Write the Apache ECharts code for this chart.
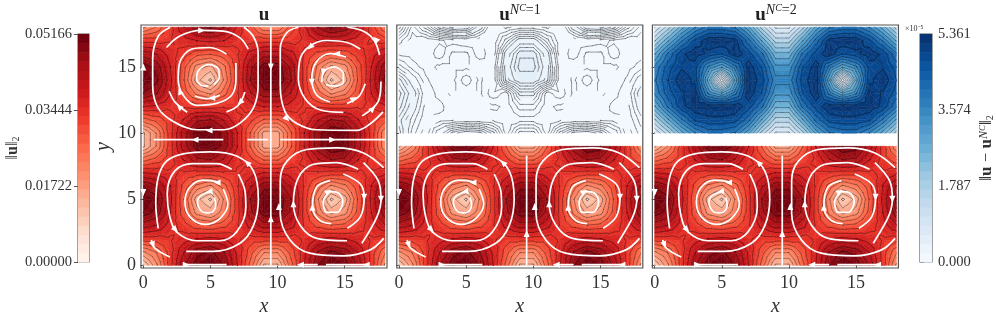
<!DOCTYPE html>
<html>
<head>
<meta charset="utf-8">
<style>html,body{margin:0;padding:0;background:#fff}#chart{width:996px;height:322px}</style>
<script src="https://cdn.jsdelivr.net/npm/echarts@6/dist/echarts.min.js"></script>
</head>
<body>
<div id="chart"></div>
<script>
// ||u||_2 in units of 1e-3, rows y=0..18, columns x=0..18
const uNorm = [
  [10,20,33,44,50,51.6,48,38,26,13,13,26,38,48,51.6,50,44,33,20],
  [20,24.5,33,41,47,49,45,37,29,21,21,29,37,45,49,47,41,33,24.5],
  [33,33,34,36,38,39,38,35,33,33,33,33,35,38,39,38,36,34,33],
  [43,41,36,33,29,28,30,34,39,43,43,39,34,30,28,29,33,36,41],
  [50,47,38,29,19,16,23,33,44,50,50,44,33,23,16,19,29,38,47],
  [51.6,49,39,28,15,9.5,21,33,45,51,51,45,33,21,9.5,15,28,39,49],
  [48,45,38,30,23,20,26,34,41,47,47,41,34,26,20,23,30,38,45],
  [38,37,35,34,33,33,34,34,36,38,38,36,34,34,33,33,34,35,37],
  [26,29,33,38,44,45,41,35,32,27,27,32,35,41,45,44,38,33,29],
  [13,21,33,43,50,51,47,38,27,15.6,15.6,27,38,47,51,50,43,33,21],
  [13,21,33,43,50,51,47,38,27,15.6,15.6,27,38,47,51,50,43,33,21],
  [26,29,33,38,44,45,41,35,32,27,27,32,35,41,45,44,38,33,29],
  [38,37,35,34,33,33,34,34,36,38,38,36,34,34,33,33,34,35,37],
  [48,45,38,30,23,20,26,34,41,47,47,41,34,26,20,23,30,38,45],
  [51.6,49,39,28,15,9.5,21,33,45,51,51,45,33,21,9.5,15,28,39,49],
  [50,47,38,29,19,16,23,33,44,50,50,44,33,23,16,19,29,38,47],
  [43,41,36,33,29,28,30,34,39,43,43,39,34,30,28,29,33,36,41],
  [33,33,34,36,38,39,38,35,33,33,33,33,35,38,39,38,36,34,33],
  [20,24.5,33,41,47,49,45,37,29,21,21,29,37,45,49,47,41,33,24.5],
];
// error fields in units of 1e-7, rows y=10..18
const errNc1 = [
  [34,14,5,20,34,40,38,26,6,22,22,6,26,38,40,34,20,5,14],
  [30,18,8,6,7,8,8,7,4,6,6,4,7,8,8,7,6,8,18],
  [38,24,10,10,4,4,4,3,5,14,14,5,3,4,4,4,10,10,24],
  [42,28,12,6,3,4,3,11,6,26,26,6,11,3,4,3,6,12,28],
  [34,20,9,4,3,11,3,8,34,44,44,34,8,3,11,3,4,9,20],
  [18,10,6,3,3,3,4,8,36,50,50,36,8,4,3,3,3,6,10],
  [7,6,4,11,3,3,11,4,32,47,47,32,4,11,3,3,11,4,6],
  [14,5,4,7,10,12,8,4,18,32,32,18,4,8,12,10,7,4,5],
  [30,10,22,38,46,44,28,8,3,6,6,3,8,28,44,46,38,22,10],
];
const errNc2 = [
  [70,161,268,354,407,407,386,295,161,64,64,161,295,386,407,407,354,268,161],
  [172,279,386,472,490,490,480,407,279,161,161,279,407,480,490,490,472,386,279],
  [279,400,490,525,525,530,525,480,400,257,257,400,480,525,530,525,525,490,400],
  [364,450,495,525,350,290,380,525,460,332,332,460,525,380,290,350,525,495,450],
  [386,465,525,490,268,5,295,530,480,370,370,480,530,295,5,268,490,525,465],
  [364,450,495,480,350,290,380,520,460,332,332,460,520,380,290,350,480,495,450],
  [279,400,490,525,490,465,525,480,400,257,257,400,480,525,465,490,525,490,400],
  [172,279,386,472,525,530,515,407,279,161,161,279,407,515,530,525,472,386,279],
  [70,161,268,354,407,407,386,295,161,64,64,161,295,386,407,407,354,268,161],
];

const xTicks = [0, 5, 10, 15];
const yTicks = [0, 5, 10, 15];
const uBarTicks = [0, 17.22, 34.44, 51.66];
const errBarTicks = [0, 178.7, 357.4, 536.1];

// streamlines in data coordinates
const streamsUpper = [
  [[2,18],[1.1,17.3],[0.7,15.6],[0.7,13.6],[1.1,11.9],[2.2,10.9],[4,10.25],[6,10.25],[7.2,10.75],[8.2,11.9],[8.55,13.6],[8.55,16.1],[8.2,17.3],[7.5,18]],
  [[1.73,16.47],[2.72,17.34],[4.34,17.76],[5.96,17.7],[7.2,17.2],[7.82,16.35]],
  [[1.93,13.16],[2.35,12.36],[3.27,11.57]],
  [[6.2,11.6],[7.08,12.1],[7.57,13.1]],
  [[6.9,15.3],[6.9,14.1],[6.58,12.86],[5.46,12.24],[3.97,12.1],[2.97,12.86],[2.6,14.1],[2.72,15.35],[3.6,16.35],[4.96,16.47],[6.2,15.97]],
  [[3.85,12.8],[4.72,12.6],[5.7,12.86]],
  [[4.84,13.55],[4.34,13.6],[3.97,14.1],[4.1,14.7],[4.84,15.17],[5.59,14.85],[5.66,14.2],[5.25,13.66]],
  [[11.55,18],[10.7,17.6],[10.2,16.35],[10.2,13.6],[10.56,11.6],[11.4,10.75],[12.9,10.25],[15.9,10.2],[16.9,10.7],[17.85,11.6]],
  [[15.2,18],[16.4,17.7],[17.2,17],[17.6,15.9]],
  [[17.7,13.9],[17.5,12.4],[16.3,11.3]],
  [[14.9,11.57],[13.2,11.74],[12.05,12.6],[11.55,14.1],[11.68,15.6],[12.43,16.6],[13.67,17],[15.17,16.85],[16.16,16.35]],
  [[15.17,12.24],[16.04,12.75],[16.53,13.73]],
  [[15.1,15.75],[13.9,16],[12.9,15.4],[12.55,14.1],[12.9,12.9],[13.9,12.35]],
  [[13.3,13.85],[13.4,14.6],[14.2,15],[14.9,14.5],[14.9,13.85],[14.25,13.55],[13.6,13.65]],
  [[0.78,9.5],[5.96,9.5]],
  [[7.75,9.5],[9.3,9.5]],
  [[10.2,9.5],[18,9.5]],
];
const streamsLower = [
  [[1.11,2.79],[0.93,4.65],[1.11,6.64],[1.73,7.88],[2.97,8.43],[4.96,8.58],[6.95,8.26],[8.2,7.14],[8.57,5],[8.2,3],[7.2,1.67],[5.2,1.05],[3.2,1.05]],
  [[6.58,7.26],[5.46,7.69],[3.7,7.69],[2.35,7.14],[1.78,5.4],[1.98,3.66],[2.47,2.53],[3.97,1.86],[5.7,1.86],[6.95,2.53],[7.64,4.4],[7.57,5.65],[7.08,6.9]],
  [[5.7,6.27],[4.46,6.44],[3.47,5.9],[3.1,4.8],[3.47,3.66],[4.6,3.1],[5.7,3.54],[6.3,4.65],[5.96,5.77]],
  [[4.9,5.57],[4.2,5.2],[4.04,4.8],[4.34,4.1],[4.96,3.96],[5.4,4.5],[5.3,5.13]],
  [[0.6,1.92],[0.86,1.3],[1.98,0.63]],
  [[3.2,0.05],[6.2,0.05]],
  [[11.7,0.05],[13,0.05]],
  [[13.6,0.05],[16.6,0.05]],
  [[17.9,2.04],[16.9,1.17],[14.9,0.72],[12.4,0.92],[10.93,1.92],[10.2,3.91],[10.2,6.39],[10.7,7.88],[12.17,8.76],[14.4,8.88],[16.4,8.5],[17.9,7.39]],
  [[16,7.26],[14.4,7.76],[12.67,7.64],[11.55,6.64],[11.18,4.65],[11.68,3.03],[12.9,2.04],[15.17,1.86]],
  [[16.4,7.76],[17.5,6.39],[17.7,5],[17.4,3.66],[16.28,1.67]],
  [[14.9,6.9],[16.16,6.15],[16.45,5.15],[16.16,3.66],[15.2,2.8]],
  [[13.9,6.4],[12.9,5.9],[12.6,4.4],[13.15,3.4],[14,3.15]],
  [[13.8,5.57],[14.5,5.5],[14.86,4.8],[14.4,4],[13.67,4],[13.4,4.8],[13.7,5.4]],
];
const verticalFull = [[9.5,18],[9.5,0]];
const verticalLower = [[9.5,8.3],[9.5,0]];

// arrow heads: x, y, rotation in degrees (0 = up, counter-clockwise)
const arrowsUpper = [
  [4.9,10.2,90],[4.35,17.76,-90],[2.67,12,45],[7.2,12.3,135],[2.72,13.16,20],[5.1,12.65,90],
  [10.7,11.08,225],[17.3,17.1,45],[17.1,11.85,-45],[12.43,16.5,135],[15.7,12.6,-60],[14.4,16,90],
  [12.55,13.85,180],[13.4,14.6,170],[0,15,0],[9.5,15,180],[3.85,9.5,90],[14.1,9.5,-90],
];
const arrowsLower = [
  [7.74,7.76,45],[2.4,2.7,225],[5.5,6.27,90],[4.9,5.57,100],[0.73,1.55,200],
  [10.1,4.45,0],[11.18,4.65,0],[12.6,4.4,0],[17.7,5,180],[16.45,5.15,180],[13.8,5.57,-60],
  [0,5.5,180],[3.2,0.05,-90],[11.7,0.05,90],[16.6,0.05,90],
];
const arrowMidFull = [9.5,3.53,0];
const arrowMidLower = [9.5,2.41,0];

const redStops = ['#fff5f0','#fee0d2','#fcbba1','#fc9272','#fb6a4a','#ef3b2c','#cb181d','#a50f15','#67000d'];
const blueStops = ['#f7fbff','#deebf7','#c6dbef','#9ecae1','#6baed6','#4292c6','#2171b5','#08519c','#08306b'];
const bandCount = 25;
const lineCount = 15;

function hex(c) { return [1,3,5].map(k => parseInt(c.substr(k,2),16)); }
function cmap(stops, t) {
  const s = Math.min(Math.max(t,0),1) * (stops.length-1);
  const k = Math.min(Math.floor(s), stops.length-2);
  const a = hex(stops[k]), b = hex(stops[k+1]), f = s-k;
  return 'rgb(' + a.map((v,n) => Math.round(v+(b[n]-v)*f)).join(',') + ')';
}
function triangles(rows, y0) {
  const out = [];
  for (let j = 0; j < rows.length-1; j++) {
    for (let i = 0; i < rows[j].length-1; i++) {
      const a = [i,y0+j,rows[j][i]], b = [i+1,y0+j,rows[j][i+1]];
      const c = [i+1,y0+j+1,rows[j+1][i+1]], d = [i,y0+j+1,rows[j+1][i]];
      const m = [i+.5,y0+j+.5,(a[2]+b[2]+c[2]+d[2])/4];
      out.push([a,b,m],[b,c,m],[c,d,m],[d,a,m]);
    }
  }
  return out;
}
function clip(poly, lev, above) {
  const out = [];
  for (let k = 0; k < poly.length; k++) {
    const p = poly[k], q = poly[(k+1)%poly.length];
    const pin = above ? p[2] >= lev : p[2] <= lev;
    const qin = above ? q[2] >= lev : q[2] <= lev;
    if (pin) out.push(p);
    if (pin !== qin) {
      const t = (lev-p[2])/(q[2]-p[2]);
      out.push([p[0]+(q[0]-p[0])*t, p[1]+(q[1]-p[1])*t, lev]);
    }
  }
  return out;
}
function bands(rows, y0, stops, vmax) {
  const polys = [];
  triangles(rows, y0).forEach(tri => {
    for (let b = 0; b < bandCount; b++) {
      const lo = vmax*b/bandCount, hi = vmax*(b+1)/bandCount;
      let p = clip(tri, lo, true);
      if (p.length) p = clip(p, hi, false);
      if (p.length > 2) polys.push({pts: p.map(q => [q[0],q[1]]), color: cmap(stops,(b+.5)/bandCount)});
    }
  });
  return polys;
}
function contours(rows, y0, step) {
  const segs = [];
  triangles(rows, y0).forEach(tri => {
    for (let lev = step; lev < step*40; lev += step) {
      const cut = [];
      for (let k = 0; k < 3; k++) {
        const p = tri[k], q = tri[(k+1)%3];
        if ((p[2]-lev)*(q[2]-lev) < 0) {
          const t = (lev-p[2])/(q[2]-p[2]);
          cut.push([p[0]+(q[0]-p[0])*t, p[1]+(q[1]-p[1])*t]);
        }
      }
      if (cut.length === 2) segs.push(cut);
    }
  });
  return segs;
}

const series = [];
function fieldSeries(ax, polys, segs, lineColor) {
  series.push({
    type: 'custom', xAxisIndex: ax, yAxisIndex: ax, silent: true, animation: false, progressive: 0, z: 2,
    data: polys.map(p => p.pts[0]),
    renderItem: (params, api) => {
      const p = polys[params.dataIndex];
      return {type:'polygon', shape:{points:p.pts.map(q => api.coord(q))}, style:{fill:p.color, stroke:p.color, lineWidth:.5}};
    },
  });
  series.push({
    type: 'custom', xAxisIndex: ax, yAxisIndex: ax, silent: true, animation: false, progressive: 0, z: 3,
    data: segs.map(s => s[0]),
    renderItem: (params, api) => {
      const s = segs[params.dataIndex];
      const a = api.coord(s[0]), b = api.coord(s[1]);
      return {type:'line', shape:{x1:a[0],y1:a[1],x2:b[0],y2:b[1]}, style:{stroke:lineColor, lineWidth:.65, lineCap:'round'}};
    },
  });
}
function streamSeries(ax, lines, arrows) {
  lines.forEach(l => series.push({
    type:'line', xAxisIndex:ax, yAxisIndex:ax, data:l, smooth:.35, showSymbol:false, silent:true, animation:false, z:4,
    lineStyle:{color:'#fff', width:1.7},
  }));
  series.push({
    type:'scatter', xAxisIndex:ax, yAxisIndex:ax, silent:true, animation:false, z:5, symbol:'triangle', symbolSize:[6,7],
    itemStyle:{color:'#fff', opacity:1}, clip:false,
    data: arrows.map(a => ({value:[a[0],a[1]], symbolRotate:a[2]})),
  });
}
function colorbarSeries(ax, stops, vmax) {
  const rects = [];
  for (let b = 0; b < bandCount; b++) rects.push([0, vmax*b/bandCount, 1, vmax*(b+1)/bandCount]);
  series.push({
    type:'custom', xAxisIndex:ax, yAxisIndex:ax, silent:true, animation:false, z:2, data:rects,
    renderItem:(params, api) => {
      const r = rects[params.dataIndex];
      const a = api.coord([r[0],r[3]]), b = api.coord([r[2],r[1]]);
      return {type:'rect', shape:{x:a[0],y:a[1],width:b[0]-a[0],height:b[1]-a[1]+.5},
        style:{fill:cmap(stops,(params.dataIndex+.5)/bandCount)}};
    },
  });
}

const uMax = 51.66, errMax = 536.1;
const lowerRows = uNorm.slice(0,10);
const uLines = contours(uNorm, 0, uMax/lineCount);
const lowerLines = contours(lowerRows, 0, uMax/lineCount);
const redLine = 'rgba(0,0,0,.48)';
fieldSeries(0, bands(uNorm,0,redStops,uMax), uLines, redLine);
streamSeries(0, streamsUpper.concat(streamsLower,[verticalFull]), arrowsUpper.concat(arrowsLower,[arrowMidFull]));
fieldSeries(1, bands(lowerRows,0,redStops,uMax), lowerLines, redLine);
fieldSeries(1, bands(errNc1,10,blueStops,errMax), contours(errNc1,10,4), 'rgba(0,0,0,.6)');
streamSeries(1, streamsLower.concat([verticalLower]), arrowsLower.concat([arrowMidLower]));
fieldSeries(2, bands(lowerRows,0,redStops,uMax), lowerLines, redLine);
fieldSeries(2, bands(errNc2,10,blueStops,errMax), contours(errNc2,10,errMax/lineCount), 'rgba(0,0,0,.48)');
streamSeries(2, streamsLower.concat([verticalLower]), arrowsLower.concat([arrowMidLower]));
colorbarSeries(3, redStops, uMax);
colorbarSeries(4, blueStops, errMax);

const font = 'Liberation Serif';
const frame = '#555';
const panelLefts = [141, 396.8, 652.4];
const grids = panelLefts.map(l => ({left:l, top:25, width:246, height:246, show:true, borderColor:frame, borderWidth:1.2, backgroundColor:'#fff'}));
grids.push({left:78, top:34, width:11, height:228, show:true, borderColor:frame, borderWidth:1.1});
grids.push({left:920, top:34, width:12, height:228, show:true, borderColor:frame, borderWidth:1.1});

const xAxes = panelLefts.map(() => ({
  type:'value', min:-0.17, max:18.15, splitLine:{show:false}, axisLine:{show:false},
  axisTick:{length:3, lineStyle:{color:frame}, customValues:xTicks},
  axisLabel:{color:'#333', fontFamily:font, fontSize:18, margin:6, customValues:xTicks},
  name:'x', nameLocation:'middle', nameGap:29,
  nameTextStyle:{color:'#333', fontFamily:font, fontStyle:'italic', fontSize:20},
}));
const yAxes = panelLefts.map((l,n) => ({
  type:'value', min:-0.2, max:18.17, splitLine:{show:false}, axisLine:{show:false},
  axisTick:{length:3, lineStyle:{color:frame}, customValues:yTicks},
  axisLabel:{show:n===0, color:'#333', fontFamily:font, fontSize:18, margin:5, customValues:yTicks},
  name:n===0?'y':'', nameLocation:'middle', nameGap:24, nameRotate:90,
  nameTextStyle:{color:'#333', fontFamily:font, fontStyle:'italic', fontSize:20},
}));
xAxes.push({type:'value', min:0, max:1, show:false, gridIndex:3});
xAxes.push({type:'value', min:0, max:1, show:false, gridIndex:4});
yAxes.push({
  type:'value', gridIndex:3, min:0, max:uMax, position:'left', splitLine:{show:false}, axisLine:{show:false},
  axisTick:{length:4, lineStyle:{color:frame}, customValues:uBarTicks},
  axisLabel:{color:'#333', fontFamily:font, fontSize:14.5, margin:6, customValues:uBarTicks, formatter:v => (v/1000).toFixed(5)},
  name:'{n|‖}{b|u}{n|‖}{s|2}', nameLocation:'middle', nameGap:54, nameRotate:90,
  nameTextStyle:{rich:{n:{fontFamily:font,fontSize:16,color:'#333'},b:{fontFamily:font,fontSize:16,fontWeight:'bold',color:'#333'},s:{fontFamily:font,fontSize:10,color:'#333',verticalAlign:'bottom'}}},
});
yAxes.push({
  type:'value', gridIndex:4, min:0, max:errMax, position:'right', splitLine:{show:false}, axisLine:{show:false},
  axisTick:{length:4, lineStyle:{color:frame}, customValues:errBarTicks},
  axisLabel:{color:'#333', fontFamily:font, fontSize:14.5, margin:6, customValues:errBarTicks, formatter:v => (v/100).toFixed(3)},
  name:'{n|‖}{b|u}{n| − }{b|u}{i|N}{c|C}{n|‖}{s|2}', nameLocation:'middle', nameGap:46, nameRotate:90,
  nameTextStyle:{rich:{n:{fontFamily:font,fontSize:17,color:'#333'},b:{fontFamily:font,fontSize:17,fontWeight:'bold',color:'#333'},i:{fontFamily:font,fontSize:12,fontStyle:'italic',color:'#333',verticalAlign:'top'},c:{fontFamily:font,fontSize:9,fontStyle:'italic',color:'#333',verticalAlign:'top'},s:{fontFamily:font,fontSize:10,color:'#333',verticalAlign:'bottom'}}},
});

const titleRich = {
  b:{fontFamily:font,fontSize:19,fontWeight:'bold',color:'#222',lineHeight:22,verticalAlign:'bottom'},
  i:{fontFamily:font,fontSize:14,fontWeight:'normal',fontStyle:'italic',color:'#222',verticalAlign:'top',lineHeight:14},
  c:{fontFamily:font,fontSize:10,fontWeight:'normal',fontStyle:'italic',color:'#222',verticalAlign:'top',lineHeight:20},
  e:{fontFamily:font,fontSize:14,fontWeight:'normal',color:'#222',verticalAlign:'top',lineHeight:14},
};
const titles = [
  {text:'{b|u}', left:264, top:3},
  {text:'{b|u}{i|N}{c|C}{e|=1}', left:520, top:3},
  {text:'{b|u}{i|N}{c|C}{e|=2}', left:776, top:3},
].map(t => Object.assign(t, {textAlign:'center', padding:0, textStyle:{rich:titleRich}}));

const chart = echarts.init(document.getElementById('chart'), null, {renderer:'canvas'});
chart.setOption({
  animation:false, backgroundColor:'#fff', title:titles, grid:grids,
  xAxis:xAxes.map((a,n) => Object.assign({gridIndex:n}, a)),
  yAxis:yAxes.map((a,n) => Object.assign({gridIndex:n}, a)),
  series:series,
  graphic:[{type:'text', left:905, top:25, style:{text:'×10⁻⁵', fontFamily:font, fontSize:8, fill:'#333'}}],
});
</script>
</body>
</html>
